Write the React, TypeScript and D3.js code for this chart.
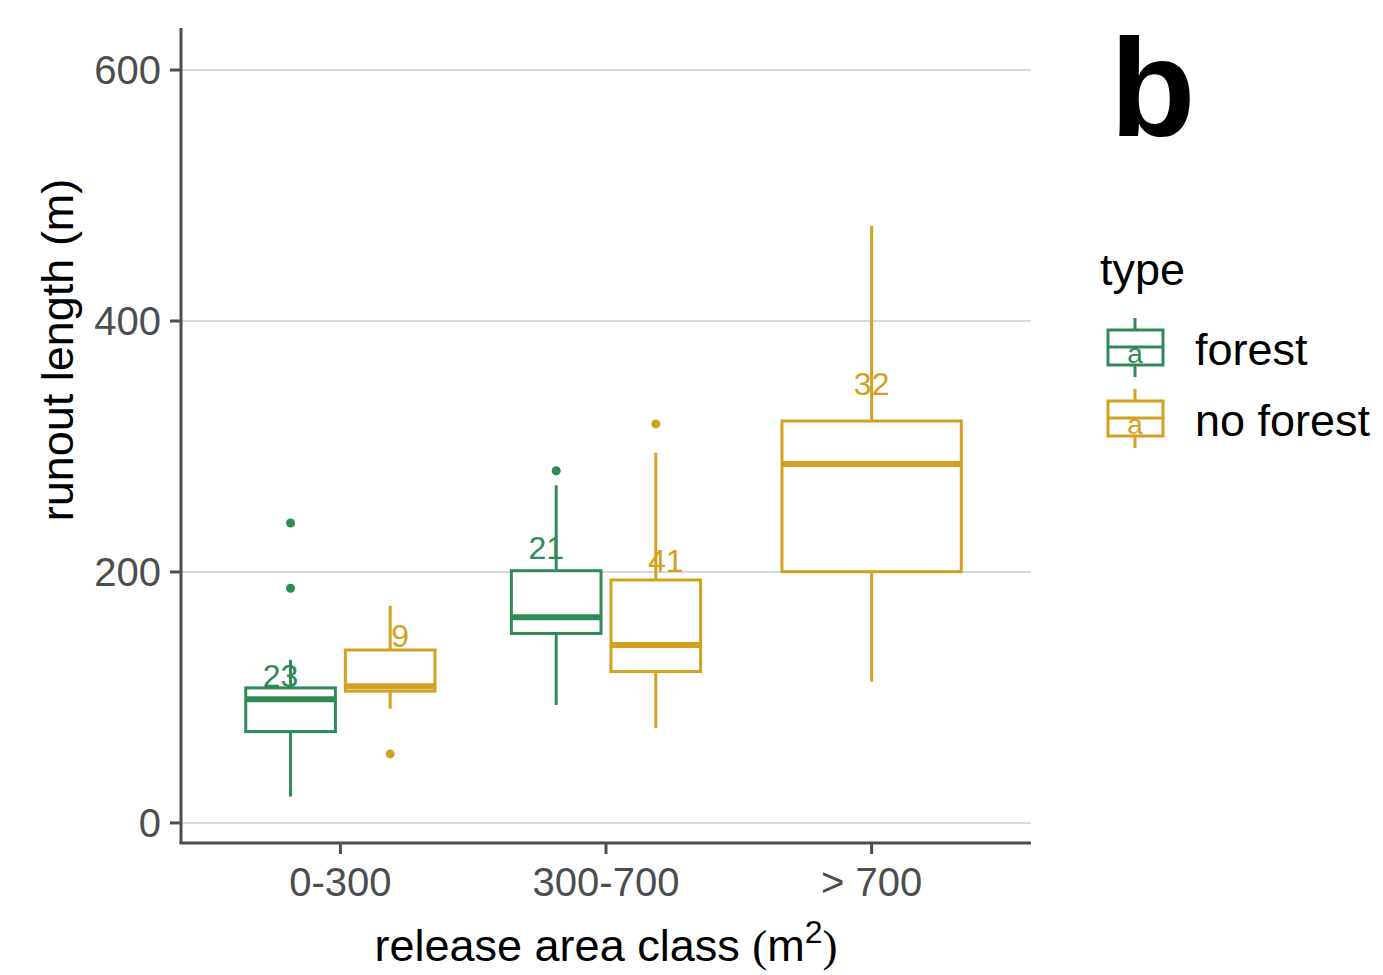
import React from "react";
import * as d3 from "d3";

const categories = ["0-300", "300-700", "> 700"];
const types = ["forest", "no forest"];
const colors = ["#2E8B57", "#D4A020"];

const boxCategory = ["0-300", "0-300", "300-700", "300-700", "> 700"];
const boxType = ["forest", "no forest", "forest", "no forest", "no forest"];
const whiskerLow = [21, 91, 94, 75.5, 112.6];
const q1 = [72.8, 105, 151, 120.6, 200.2];
const median = [98.6, 109, 164, 141.8, 286];
const q3 = [107.6, 137.8, 201, 193.6, 320.3];
const whiskerHigh = [130, 173, 269, 295, 475.7];
const outliers = [[239, 187], [55], [280.7], [318], []];
const countLabels = ["23", "9", "21", "41", "32"];
const labelY = [108, 140, 210, 200, 341];

const yTicks = [0, 200, 400, 600];

const FONT = "'Liberation Sans', Arial, sans-serif";

export default function App() {
  const W = 1383, H = 975;
  const left = 181, right = 1031, top = 28, bottom = 843;
  const x = d3.scalePoint<string>().domain(categories).range([left, right]).padding(0.6);
  const step = x.step();
  const y = d3.scaleLinear().domain([-16, 633.5]).range([bottom, top]);
  const color = d3.scaleOrdinal<string, string>().domain(types).range(colors);

  const boxes = boxCategory.map((c, i) => {
    const inCat = boxCategory.map((cc, j) => (cc === c ? j : -1)).filter((j) => j >= 0);
    const n = inCat.length;
    const k = inCat.indexOf(i);
    const slot = 0.75 / n;
    const center = x(c)! + (-0.375 + slot * (k + 0.5)) * step;
    const w = slot * 0.9 * step;
    const tslot = 0.9 / n;
    const tcenter = x(c)! + (-0.45 + tslot * (k + 0.5)) * step;
    return { i, center, w, tcenter, col: color(boxType[i]) };
  });

  const lw = 3;
  return (
    <svg width={W} height={H} style={{ display: "block", position: "absolute", left: 0, top: 0 }}>
      <rect width={W} height={H} fill="#fff" />
      {yTicks.map((t) => (
        <line key={t} x1={left} x2={right} y1={y(t)} y2={y(t)} stroke="#D9D9D9" strokeWidth={2} />
      ))}
      {boxes.map((b) => {
        const i = b.i;
        return (
          <g key={i} stroke={b.col} fill="none" strokeWidth={lw}>
            <line x1={b.center} x2={b.center} y1={y(q3[i])} y2={y(whiskerHigh[i])} />
            <line x1={b.center} x2={b.center} y1={y(q1[i])} y2={y(whiskerLow[i])} />
            <rect x={b.center - b.w / 2} y={y(q3[i])} width={b.w} height={y(q1[i]) - y(q3[i])} fill="#fff" />
            <line x1={b.center - b.w / 2} x2={b.center + b.w / 2} y1={y(median[i])} y2={y(median[i])} strokeWidth={lw * 2} />
            {outliers[i].map((o, j) => (
              <circle key={j} cx={b.center} cy={y(o)} r={4.5} fill={b.col} stroke="none" />
            ))}
          </g>
        );
      })}
      {boxes.map((b) => (
        <text key={"l" + b.i} x={b.tcenter} y={y(labelY[b.i])} fill={b.col} fontSize={32} fontFamily={FONT} textAnchor="middle">
          {countLabels[b.i]}
        </text>
      ))}
      {/* axes */}
      <line x1={left} x2={left} y1={top} y2={bottom} stroke="#4D4D4D" strokeWidth={3} />
      <line x1={left - 1.5} x2={right} y1={bottom} y2={bottom} stroke="#4D4D4D" strokeWidth={3} />
      {yTicks.map((t) => (
        <g key={"yt" + t}>
          <line x1={left - 11} x2={left} y1={y(t)} y2={y(t)} stroke="#4D4D4D" strokeWidth={3} />
          <text x={left - 20} y={y(t) + 14} textAnchor="end" fontSize={40} fill="#4D4D4D" fontFamily={FONT}>{t}</text>
        </g>
      ))}
      {categories.map((c) => (
        <g key={"xt" + c}>
          <line x1={x(c)} x2={x(c)} y1={bottom} y2={bottom + 11} stroke="#4D4D4D" strokeWidth={3} />
          <text x={x(c)} y={896} textAnchor="middle" fontSize={40} fill="#4D4D4D" fontFamily={FONT}>{c}</text>
        </g>
      ))}
      <text x={606} y={961} textAnchor="middle" fontSize={45} fill="#000" fontFamily={FONT}>
        release area class{" "}
        <tspan fontFamily="'Liberation Serif', serif">(</tspan>m
        <tspan dy={-18} fontSize={32}>2</tspan>
        <tspan dy={18} fontFamily="'Liberation Serif', serif">)</tspan>
      </text>
      <text transform={`translate(73,350) rotate(-90)`} textAnchor="middle" fontSize={45} fill="#000" fontFamily={FONT}>
        runout length (m)
      </text>
      {/* legend */}
      <text x={1100} y={285} fontSize={45} fill="#000" fontFamily={FONT}>type</text>
      {types.map((t, k) => {
        const cy = 347 + k * 71;
        const cx = 1135;
        const col = color(t);
        return (
          <g key={"lg" + t}>
            <g stroke={col} strokeWidth={3} fill="none">
              <line x1={cx} x2={cx} y1={cy - 29} y2={cy + 30} />
              <rect x={1108} y={cy - 17} width={55} height={35} fill="#fff" />
              <line x1={1108} x2={1163} y1={cy} y2={cy} />
            </g>
            <text x={cx} y={cy + 16} fontSize={28} fill={col} textAnchor="middle" fontFamily={FONT}>a</text>
            <text x={1195} y={cy + 18} fontSize={45} fill="#000" fontFamily={FONT}>{t}</text>
          </g>
        );
      })}
      <text x={1110} y={136} fontSize={140} fontWeight="bold" fill="#000" fontFamily={FONT}>b</text>
    </svg>
  );
}
